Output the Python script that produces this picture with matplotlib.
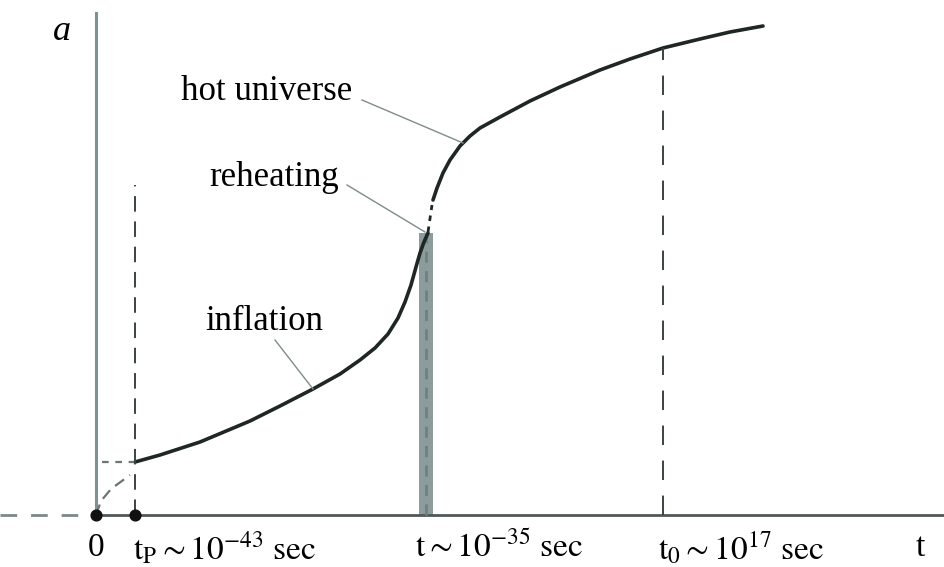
import matplotlib
matplotlib.use("Agg")
import matplotlib.pyplot as plt

plt.rcParams['font.family'] = ['Liberation Serif', 'DejaVu Serif']
plt.rcParams['mathtext.fontset'] = 'stix'

# scale factor a(t) (arbitrary units, origin at t=0, a=0)
t_pre = [0, 5, 15, 34]
a_pre = [0, 14, 26, 40]

t_infl = [39, 64, 104, 154, 184, 217, 244, 264, 279, 292, 302, 309, 315, 320, 324, 328, 332]
a_infl = [53, 60, 73, 94, 109, 126, 141, 155, 167, 181, 197, 213, 230, 248, 262, 273, 282]

t_reh = [332, 336]
a_reh = [283, 310]

t_hot = [337, 341, 347, 354, 364, 374, 384, 404, 434, 464, 504, 534, 567, 604, 634, 667]
a_hot = [315, 327, 342, 355, 369, 379, 387, 398, 414, 428, 445, 456, 467, 476, 483, 489]

t_planck = 39
a_planck = 53
t_reheat_band = (323, 337)
a_reheat_top = 282
t_now = 567
a_now = 467

tick_labels = ["0", r"$\mathrm{t_P} \sim 10^{-43}\ \mathrm{sec}$",
               r"$\mathrm{t} \sim 10^{-35}\ \mathrm{sec}$",
               r"$\mathrm{t_0} \sim 10^{17}\ \mathrm{sec}$", "t"]
tick_pos = [0, 37, 319, 562, 824]

fig = plt.figure(figsize=(9.45, 5.67), dpi=100)
ax = fig.add_axes([0, 0, 1, 1])
ax.set_xlim(-96, 849)
ax.set_ylim(-52, 515)
ax.axis('off')

axis_col = '#7d9191'
# axes
ax.plot([0, 0], [0, 502], color=axis_col, lw=2.2)
ax.plot([0, 849], [0, 0], color='#4f5858', lw=2)
ax.plot([-96, 0], [0, 0], color='#7d8888', lw=2, dashes=(6, 5))

# reheating band
ax.fill_between(t_reheat_band, 0, a_reheat_top, color='#8c9c9c', lw=0)
ax.plot([330, 330], [0, a_reheat_top], color='#6f8080', lw=2, dashes=(4, 3))

# curve
ax.plot(t_infl, a_infl, color='#1e2626', lw=2.6, solid_capstyle='round', solid_joinstyle='round')
ax.plot(t_reh, a_reh, color='#1e2626', lw=2, dashes=(2, 2))
ax.plot(t_hot, a_hot, color='#1e2626', lw=2.6, solid_capstyle='round', solid_joinstyle='round')
ax.plot(t_pre, a_pre, color='#6a7575', lw=1.6, dashes=(5, 3))
ax.plot([6, t_planck], [a_planck, a_planck], color='#6a7575', lw=1.6, dashes=(3, 3))

# verticals
ax.plot([t_planck, t_planck], [0, 330], color='#3a4242', lw=1.4, dashes=(8, 5))
ax.plot([t_now, t_now], [0, a_now], color='#3a4242', lw=1.4, dashes=(10, 8))

ax.scatter([0, t_planck], [0, 0], s=60, color='#111111', zorder=5)

# labels with leaders
lead = '#7f8c8c'
ax.text(171, 423, "hot universe", fontsize=25, ha='center', va='center')
ax.plot([266, 367], [415, 372], color=lead, lw=1)
ax.text(178, 338, "reheating", fontsize=25, ha='center', va='center')
ax.plot([251, 329], [330, 283], color=lead, lw=1)
ax.text(168, 193, "inflation", fontsize=25, ha='center', va='center')
ax.plot([179, 217], [175, 126], color=lead, lw=1)

ax.text(-34, 483, "a", fontsize=26, style='italic', ha='center', va='center')

for i, (p, s) in enumerate(zip(tick_pos, tick_labels)):
    ha = 'center' if i in (0, 4) else 'left'
    ax.text(p, -33, s, fontsize=24, ha=ha, va='center')

fig.savefig("out.png", dpi=100)
